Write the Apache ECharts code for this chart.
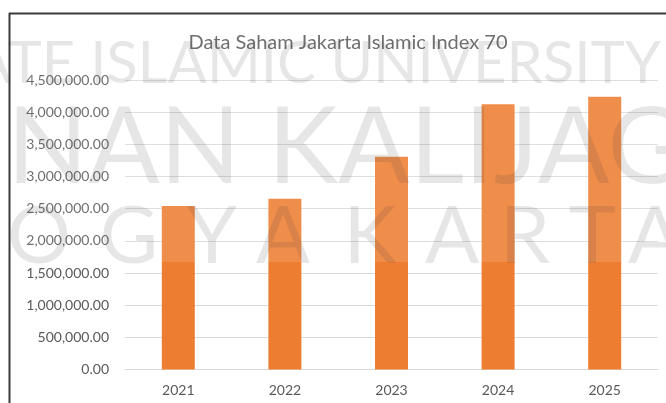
<!DOCTYPE html>
<html>
<head>
<meta charset="utf-8">
<script src="https://cdn.jsdelivr.net/npm/echarts@6/dist/echarts.min.js"></script>
<style>
  html, body { margin: 0; padding: 0; background: #fff; }
  #chart { width: 666px; height: 403px; }
</style>
</head>
<body>
<div id="chart"></div>
<script>
// data
const years = ['2021', '2022', '2023', '2024', '2025']
const stockValues = [2541000, 2655000, 3308000, 4122000, 4240000]
const yMin = 0
const yMax = 4500000
const yStep = 500000

const chart = echarts.init(document.getElementById('chart'))

// watermark (background of the screenshot)
const wmFill = 'rgba(60,60,60,0.13)'
const wmFont = 'normal {s}px Lato'
const rowThree = ['Y', 'O', 'G', 'Y', 'A', 'K', 'A', 'R', 'T', 'A']
const rowThreeX = [-45, 39, 129, 212, 283, 370, 452, 525, 592, 655]

const wmElements = [
  {
    type: 'rect', z: 50, silent: true,
    shape: { x: 10, y: 14, width: 656, height: 248 },
    style: { fill: 'rgba(255,255,255,0.13)' }
  },
  {
    type: 'text', z: 51, silent: true, x: 661, y: 35,
    style: { text: 'STATE ISLAMIC UNIVERSITY', font: wmFont.replace('{s}', 58), fill: wmFill,
      textAlign: 'right', textVerticalAlign: 'top', align: 'right', verticalAlign: 'top' }
  },
  {
    type: 'text', z: 51, silent: true, x: 756, y: 96,
    style: { text: 'SUNAN KALIJAGA', font: wmFont.replace('{s}', 106), fill: wmFill,
      textAlign: 'right', textVerticalAlign: 'top', align: 'right', verticalAlign: 'top' }
  }
]
rowThree.forEach((ch, i) => {
  wmElements.push({
    type: 'text', z: 51, silent: true, x: rowThreeX[i], y: 197,
    style: { text: ch, font: wmFont.replace('{s}', 80), fill: wmFill,
      textAlign: 'center', textVerticalAlign: 'top', align: 'center', verticalAlign: 'top' }
  })
})

// frame of the chart area
const frame = [
  {
    type: 'line', z: 60, silent: true,
    shape: { x1: 9, y1: 13.5, x2: 666, y2: 13.5 },
    style: { stroke: '#3a3a3a', lineWidth: 2 }
  },
  {
    type: 'line', z: 60, silent: true,
    shape: { x1: 9.5, y1: 13, x2: 9.5, y2: 403 },
    style: { stroke: '#3a3a3a', lineWidth: 2 }
  }
]

const fmt = (v) => v.toLocaleString('en-US', { minimumFractionDigits: 2, maximumFractionDigits: 2 })

chart.setOption({
  animation: false,
  textStyle: { fontFamily: 'Lato' },
  title: {
    text: 'Data Saham Jakarta Islamic Index 70',
    left: 343,
    textAlign: 'center',
    top: 28,
    textStyle: { fontFamily: 'Lato', fontSize: 20, fontWeight: 'normal', color: '#595959' }
  },
  grid: { left: 125, right: 8, top: 80, bottom: 33.5, containLabel: false },
  xAxis: {
    type: 'category',
    data: years,
    axisLine: { show: true, lineStyle: { color: '#d9d9d9' } },
    axisTick: { show: false },
    axisLabel: { color: '#595959', fontSize: 14, margin: 14 }
  },
  yAxis: {
    type: 'value',
    min: yMin,
    max: yMax,
    interval: yStep,
    axisLine: { show: false },
    axisTick: { show: false },
    splitLine: { lineStyle: { color: '#d9d9d9', width: 1 } },
    axisLabel: { color: '#595959', fontSize: 14, margin: 16, formatter: fmt }
  },
  series: [
    {
      type: 'bar',
      data: stockValues,
      barWidth: 33,
      itemStyle: { color: '#ED7D31' }
    }
  ],
  graphic: wmElements.concat(frame)
})
</script>
</body>
</html>
